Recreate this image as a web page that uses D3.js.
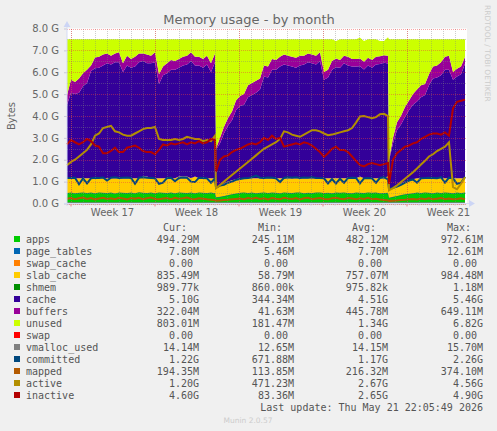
<!DOCTYPE html>
<html>
<head>
<meta charset="utf-8">
<title>Memory usage - by month</title>
<script src="https://d3js.org/d3.v7.min.js"></script>
<style>
    html, body { margin: 0; padding: 0; background: #f0f0f0; }
    svg { display: block; }
    text { font-family: "DejaVu Sans", sans-serif; }
    .mono { font-family: "DejaVu Sans Mono", monospace; font-size: 10px; fill: #555; white-space: pre; }
</style>
</head>
<body>
<div id="chart"></div>
<script>
// all values in GB. each series has 3 runs split at the two reboots
var apps = [.47,.50,.46,.48,.50,.47,.49,.46,.50,.48,.47,.49,.45,.50,.48,.47,.49,.46,.51,.48,.47,.49,.46,.50,.48,.47,.49,.46,.50,.48,.47,.49,.46,.50,.48,.47,.49,.46,
    .28,.30,.33,.38,.42,.45,.48,.50,.47,.49,.46,.48,.50,.47,.49,.48,.46,.50,.48,.47,.49,.50,.46,.48,.47,.49,.50,.47,.48,.46,.49,.48,.50,.47,.46,.49,.48,.47,.50,.48,.49,.46,.47,.48,
    .26,.30,.34,.38,.42,.44,.46,.49,.47,.50,.48,.46,.49,.47,.50,.48,.46,.49,.47,.49];
var slabCache = [.68,.65,.69,.67,.65,.68,.66,.69,.65,.67,.68,.66,.70,.65,.67,.68,.66,.69,.64,.75,.76,.66,.69,.65,.67,.68,.66,.69,.73,.75,.76,.66,.77,.65,.67,.68,.66,.69,
    .42,.50,.57,.62,.63,.65,.67,.65,.68,.66,.69,.67,.65,.68,.66,.67,.69,.65,.67,.68,.66,.65,.69,.67,.68,.66,.65,.68,.67,.69,.66,.67,.65,.68,.69,.66,.74,.68,.65,.67,.66,.69,.68,.76,
    .34,.40,.46,.52,.58,.61,.64,.66,.68,.65,.67,.69,.66,.68,.65,.67,.69,.66,.68,.66];
var cache = [3.35,3.90,3.85,3.90,4.20,4.35,4.90,5.02,5.05,5.15,5.25,5.20,5.30,5.30,4.85,5.15,5.05,5.10,5.30,5.27,5.17,5.25,5.30,4.30,4.70,4.80,4.95,4.95,4.97,5.07,5.12,5.35,5.07,5.15,5.05,5.20,4.85,5.30,
    1.75,1.95,2.30,2.55,2.75,3.15,3.30,3.35,3.70,3.80,3.90,4.05,4.65,4.60,4.95,4.95,5.10,5.20,5.15,5.10,5.05,5.15,5.20,5.30,5.25,5.20,5.35,4.50,4.60,4.95,5.07,5.05,5.25,5.15,5.10,5.10,5.05,4.97,5.15,5.05,5.20,5.22,5.27,5.15,
    1.35,2.05,2.55,2.70,2.95,3.20,3.40,3.50,3.70,3.80,4.25,4.55,4.60,4.70,4.95,4.95,4.50,4.65,4.75,5.23];
var buffers = [.45,.60,.55,.65,.60,.60,.25,.50,.50,.50,.45,.40,.40,.45,.40,.45,.40,.45,.40,.35,.40,.35,.45,.45,.40,.45,.45,.40,.40,.40,.40,.40,.40,.40,.40,.40,.40,.40,
    .05,.25,.30,.35,.40,.45,.45,.50,.55,.55,.55,.50,.50,.50,.50,.45,.45,.45,.45,.45,.45,.45,.40,.40,.40,.40,.40,.35,.35,.40,.40,.35,.35,.40,.35,.35,.35,.35,.35,.35,.35,.35,.35,.35,
    .05,.25,.35,.40,.45,.45,.50,.55,.55,.50,.50,.55,.55,.60,.60,.65,.35,.35,.35,.32];
var unused = [2.55,1.85,1.95,1.80,1.55,1.40,1.20,.83,.80,.70,.65,.75,.65,.60,1.10,.75,.90,.80,.65,.65,.70,.75,.60,1.60,1.25,1.10,.95,1.00,.90,.80,.75,.60,.80,.80,.90,.75,1.10,.65,
    5.00,4.50,4.00,3.60,3.30,2.80,2.60,2.50,2.10,2.00,1.90,1.80,1.20,1.25,.90,.95,.80,.70,.75,.80,.85,.75,.75,.65,.70,.75,.60,1.50,1.40,1.00,.80,.95,.75,.80,.90,.90,.95,.95,.85,.95,.80,.70,.65,.85,
    5.50,4.50,3.80,3.50,3.10,2.80,2.50,2.30,2.10,2.05,1.60,1.25,1.20,1.05,.80,.75,1.50,1.35,1.25,.80];
var committed = [1.16,1.17,1.18,.88,1.15,.92,1.15,1.18,1.17,1.19,1.05,1.18,1.20,1.17,1.18,1.19,1.17,.90,1.18,1.20,1.18,1.17,1.15,.90,.95,1.17,1.18,1.02,1.17,1.19,1.18,1.00,.98,1.18,1.17,1.15,.95,1.15,
    .72,.82,.85,.95,1.00,1.08,1.12,1.15,1.16,1.20,1.28,1.18,1.17,1.19,1.18,1.15,.98,1.17,1.20,1.18,1.20,1.17,1.19,1.18,1.20,1.17,1.16,1.15,.92,1.12,.92,1.13,.95,1.16,1.18,1.17,.92,1.15,1.17,1.15,.95,1.17,1.20,1.10,
    .65,.72,.78,.85,.95,1.05,1.10,.95,1.15,1.16,1.18,1.17,1.15,1.20,.95,1.18,1.15,.90,.95,1.22];
var mapped = [.22,.25,.20,.24,.27,.21,.25,.19,.23,.26,.21,.24,.20,.26,.23,.19,.25,.22,.26,.20,.24,.27,.21,.19,.23,.25,.20,.26,.22,.24,.27,.21,.20,.24,.22,.19,.17,.15,
    .13,.14,.16,.17,.19,.21,.23,.20,.25,.22,.26,.21,.24,.19,.25,.22,.20,.26,.23,.21,.25,.19,.24,.26,.20,.23,.25,.21,.19,.24,.26,.22,.20,.25,.23,.19,.24,.21,.26,.20,.22,.18,.16,.14,
    .12,.13,.14,.16,.17,.19,.21,.18,.23,.20,.24,.19,.22,.25,.20,.23,.19,.21,.24,.19];
var active = [1.75,1.90,2.00,2.15,2.30,2.45,2.70,3.10,3.20,3.45,3.50,3.55,3.30,3.25,3.15,3.10,3.10,3.20,3.30,3.40,3.45,3.45,3.50,2.95,2.90,2.90,2.90,2.95,2.90,2.95,3.05,3.00,2.95,2.95,2.85,2.90,2.85,3.10,
    .70,.85,1.00,1.15,1.30,1.45,1.60,1.75,1.90,2.05,2.20,2.35,2.50,2.60,2.70,2.80,2.95,3.30,3.25,3.15,3.10,3.05,3.15,3.25,3.35,3.35,3.30,3.20,3.12,3.15,3.20,3.25,3.30,3.35,3.45,3.70,3.98,4.00,3.95,3.90,3.95,4.08,4.10,4.00,
    .60,.70,.83,.98,1.13,1.28,1.43,1.60,1.78,1.95,2.15,2.25,2.40,2.50,2.60,2.80,.75,.65,.90,1.20];
var inactive = [2.70,2.90,2.80,2.70,2.80,2.95,2.85,2.65,2.60,2.30,2.30,2.40,2.55,2.35,2.35,2.55,2.60,2.65,2.55,2.40,2.35,2.35,2.25,2.45,2.70,2.65,2.75,2.70,2.75,2.80,2.70,2.80,2.75,2.85,2.75,2.80,2.95,2.90,
    1.45,2.00,2.15,2.20,2.35,2.45,2.50,2.60,2.70,2.75,2.70,2.80,3.00,2.90,3.10,2.95,3.00,2.60,2.65,2.70,2.75,2.70,2.80,2.75,2.65,2.50,2.35,2.13,2.30,2.50,2.60,2.45,2.45,2.35,2.15,1.95,1.75,1.70,1.80,1.85,1.80,1.75,1.80,1.85,
    .90,2.00,2.30,2.45,2.60,2.65,2.75,2.80,2.95,3.05,3.15,3.20,3.20,3.15,3.25,3.10,4.35,4.65,4.70,4.75];

// too thin to read, these stay at the value in the legend
var pageTables = apps.map(function () { return 0.0078; });
var swapCache = apps.map(function () { return 0; });
var shmem = apps.map(function () { return 0.001; });
var swap = apps.map(function () { return 0; });
var vmallocUsed = apps.map(function () { return 0.014; });

// 8 hour samples, the second and third run start 2h after the drop
var sampleHours = d3.range(0, 38).map(function (i) { return i * 8; })
    .concat(d3.range(0, 44).map(function (i) { return 298 + i * 8; }))
    .concat(d3.range(0, 20).map(function (i) { return 644 + i * 8; }));

var startTime = Date.UTC(2026, 3, 19, 17);
var endTime = Date.UTC(2026, 4, 22, 23);
var weekStarts = [Date.UTC(2026, 3, 20), Date.UTC(2026, 3, 27), Date.UTC(2026, 4, 4), Date.UTC(2026, 4, 11), Date.UTC(2026, 4, 18)];
var weekLabels = ["Week 17", "Week 18", "Week 19", "Week 20", "Week 21"];
var yTicks = [0, 1, 2, 3, 4, 5, 6, 7, 8];
var yMinorTicks = [.5, 1.5, 2.5, 3.5, 4.5, 5.5, 6.5, 7.5];

var legendNames = ["apps", "page_tables", "swap_cache", "slab_cache", "shmem", "cache", "buffers", "unused", "swap", "vmalloc_used", "committed", "mapped", "active", "inactive"];
var legendColors = ["#00CC00", "#0066B3", "#FF8000", "#FFCC00", "#008F00", "#330099", "#990099", "#CCFF00", "#FF0000", "#808080", "#00487D", "#B35A00", "#B38F00", "#B30000"];
var legendCur = ["494.29M", "7.80M", "0.00 ", "835.49M", "989.77k", "5.10G", "322.04M", "803.01M", "0.00 ", "14.14M", "1.22G", "194.35M", "1.20G", "4.60G"];
var legendMin = ["245.11M", "5.46M", "0.00 ", "58.79M", "860.00k", "344.34M", "41.63M", "181.47M", "0.00 ", "12.65M", "671.88M", "113.85M", "471.23M", "83.36M"];
var legendAvg = ["482.12M", "7.70M", "0.00 ", "757.07M", "975.82k", "4.51G", "445.78M", "1.34G", "0.00 ", "14.15M", "1.17G", "216.32M", "2.67G", "2.65G"];
var legendMax = ["972.61M", "12.61M", "0.00 ", "984.48M", "1.18M", "5.46G", "649.11M", "6.82G", "0.00 ", "15.70M", "2.26G", "374.10M", "4.56G", "4.90G"];

var areaSeries = { apps: apps, page_tables: pageTables, swap_cache: swapCache, slab_cache: slabCache, shmem: shmem, cache: cache, buffers: buffers, unused: unused, swap: swap };
var lineSeries = { vmalloc_used: vmallocUsed, committed: committed, mapped: mapped, active: active, inactive: inactive };

var colorOf = d3.scaleOrdinal().domain(legendNames).range(legendColors);

var svg = d3.select("#chart").append("svg").attr("width", 497).attr("height", 431);

var x = d3.scaleUtc().domain([startTime, endTime]).range([67, 466]);
var y = d3.scaleLinear().domain([0, 8]).range([203.5, 28.5]);

function timeAt(i) { return startTime + sampleHours[i] * 3600000; }

// plot background
svg.append("rect").attr("x", x.range()[0]).attr("y", y(8)).attr("width", 400).attr("height", y(0) - y(8)).attr("fill", "#fff");

// stacked areas
var rows = sampleHours.map(function (h, i) {
    var row = {};
    Object.keys(areaSeries).forEach(function (k) { row[k] = areaSeries[k][i]; });
    return row;
});
var stacked = d3.stack().keys(Object.keys(areaSeries))(rows);
var area = d3.area()
    .x(function (d, i) { return x(timeAt(i)); })
    .y0(function (d) { return y(d[0]); })
    .y1(function (d) { return y(d[1]); });

svg.append("g").selectAll("path").data(stacked).join("path")
    .attr("d", area)
    .attr("fill", function (d) { return colorOf(d.key); })
    .attr("stroke", function (d) { return d.key == "page_tables" ? "#0a7a5a" : "none"; })
    .attr("stroke-width", 0.8);

// lines on top of the stack
var line = d3.line()
    .x(function (d, i) { return x(timeAt(i)); })
    .y(function (d) { return y(d); });

svg.append("g").selectAll("path").data(Object.keys(lineSeries)).join("path")
    .attr("d", function (k) { return line(lineSeries[k]); })
    .attr("fill", "none")
    .attr("stroke", function (k) { return colorOf(k); })
    .attr("stroke-width", 2);

// grid
function grid(g, color) {
    g.select(".domain").remove();
    g.selectAll("text").remove();
    g.selectAll("line").attr("stroke", color).attr("stroke-dasharray", "1,1").attr("shape-rendering", "crispEdges");
}
var height = y(0) - y(8);
var width = x.range()[1] - x.range()[0];
var dayTicks = d3.utcDays(startTime, endTime);

svg.append("g").attr("transform", "translate(0," + y(0) + ")")
    .call(d3.axisBottom(x).tickValues(dayTicks).tickSize(-height))
    .call(grid, "rgba(130,130,130,0.4)");
svg.append("g").attr("transform", "translate(67,0)")
    .call(d3.axisLeft(y).tickValues(yMinorTicks).tickSize(-width))
    .call(grid, "rgba(130,130,130,0.4)");
svg.append("g").attr("transform", "translate(0," + y(0) + ")")
    .call(d3.axisBottom(x).tickValues(weekStarts).tickSize(-height))
    .call(grid, "rgba(240,60,60,0.45)");
svg.append("g").attr("transform", "translate(67,0)")
    .call(d3.axisLeft(y).tickValues(yTicks).tickSize(-width))
    .call(grid, "rgba(240,60,60,0.45)");

// axes
function axisStyle(g) {
    g.select(".domain").remove();
    g.selectAll("line").attr("stroke", "#c8c8d8");
    g.selectAll("text").attr("fill", "#666").attr("font-size", 10).attr("font-family", "DejaVu Sans");
}
svg.append("g").attr("transform", "translate(67,0)")
    .call(d3.axisLeft(y).tickValues(yTicks).tickSize(3).tickPadding(5).tickFormat(function (d) { return d3.format(".1f")(d) + " G"; }))
    .call(axisStyle);
svg.append("g").attr("transform", "translate(0," + y(0) + ")")
    .call(d3.axisBottom(x).tickValues(dayTicks).tickSize(2).tickFormat(""))
    .call(axisStyle);
svg.append("g").attr("transform", "translate(0," + y(0) + ")")
    .call(d3.axisBottom(x).tickValues(weekStarts).tickSize(3).tickFormat(""))
    .call(axisStyle)
    .selectAll("line").attr("stroke", "#f09090");

svg.append("g").selectAll("text").data(weekLabels).join("text")
    .attr("x", function (d, i) { return x(weekStarts[i] + 3.5 * 86400000); })
    .attr("y", 216)
    .attr("text-anchor", "middle")
    .attr("font-size", 10)
    .attr("fill", "#666")
    .text(function (d) { return d; });

// axis lines with the little arrows
svg.append("line").attr("x1", 67).attr("x2", 67).attr("y1", 26).attr("y2", 206).attr("stroke", "#d5dbf5");
svg.append("line").attr("x1", 64).attr("x2", 470).attr("y1", 203.5).attr("y2", 203.5).attr("stroke", "#d5dbf5");
svg.append("path").attr("d", d3.symbol(d3.symbolTriangle, 20)).attr("transform", "translate(67,25)").attr("fill", "#ccd5f5");
svg.append("path").attr("d", d3.symbol(d3.symbolTriangle, 20)).attr("transform", "translate(471,203.5) rotate(90)").attr("fill", "#ccd5f5");

// title and side labels
svg.append("text").attr("x", 249).attr("y", 24).attr("text-anchor", "middle").attr("font-size", 13).attr("fill", "#666").text("Memory usage - by month");
svg.append("text").attr("transform", "translate(15,116) rotate(-90)").attr("text-anchor", "middle").attr("font-size", 10).attr("fill", "#666").text("Bytes");
svg.append("text").attr("transform", "translate(485,5) rotate(90)").attr("font-size", 7.5).attr("fill", "#ccc").text("RRDTOOL / TOBI OETIKER");

// legend
var heads = [["Cur:", 163], ["Min:", 258], ["Avg:", 352], ["Max:", 447]];
svg.append("g").selectAll("text").data(heads).join("text")
    .attr("class", "mono").attr("x", function (d) { return d[1]; }).attr("y", 231).text(function (d) { return d[0]; });

var legend = svg.append("g").selectAll("g").data(legendNames).join("g")
    .attr("transform", function (d, i) { return "translate(0," + (243 + i * 12) + ")"; });
legend.append("rect").attr("x", 14).attr("y", -7).attr("width", 6).attr("height", 6).attr("fill", function (d) { return colorOf(d); });
legend.append("text").attr("class", "mono").attr("x", 26).text(function (d) { return d; });
[[legendCur, 199], [legendMin, 294], [legendAvg, 388], [legendMax, 483]].forEach(function (col) {
    legend.append("text").attr("class", "mono").attr("text-anchor", "end").attr("x", col[1])
        .text(function (d, i) { return col[0][i]; });
});

svg.append("text").attr("class", "mono").attr("x", 483).attr("y", 411).attr("text-anchor", "end").text("Last update: Thu May 21 22:05:49 2026");
svg.append("text").attr("x", 248).attr("y", 423).attr("text-anchor", "middle").attr("font-size", 7.5).attr("fill", "#ccc").text("Munin 2.0.57");
</script>
</body>
</html>
